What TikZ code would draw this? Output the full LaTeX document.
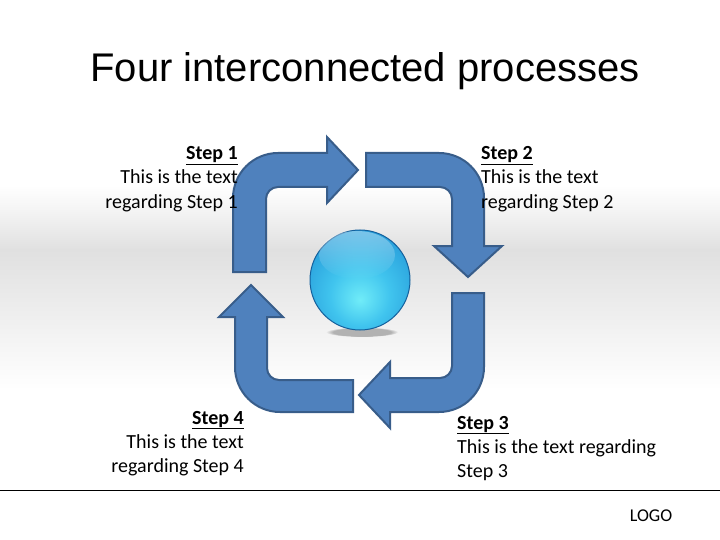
\documentclass[tikz,border=0pt]{standalone}
\usepackage{fontspec}
\setmainfont{Carlito}
\newfontfamily\titlefont{Liberation Sans}
\usetikzlibrary{fadings}
\definecolor{arrfill}{HTML}{4F81BD}
\definecolor{arrline}{HTML}{385D8A}
\definecolor{bgG}{HTML}{E0E0E0}
\definecolor{bgL}{HTML}{F2F2F2}
\definecolor{sphC}{HTML}{70ECF8}
\definecolor{sphM}{HTML}{40C4EE}
\definecolor{sphD}{HTML}{2294D6}
\definecolor{sphE}{HTML}{1A76BA}
\definecolor{sphB}{HTML}{14609C}
\pgfdeclareradialshading{sphshade}{\pgfpoint{0bp}{-10bp}}{color(0bp)=(sphC); color(15bp)=(sphM); color(36bp)=(sphD); color(50bp)=(sphE); color(70bp)=(sphE)}
\tikzfading[name=hlfade, top color=transparent!62, bottom color=transparent!100]
\tikzset{
  bigarrow/.style={fill=arrfill, draw=arrline, line width=2pt, line join=miter},
  steptitle/.style={font=\fontsize{20}{24}\selectfont\bfseries, inner sep=0pt},
  steptext/.style={font=\fontsize{20}{24}\selectfont, inner sep=0pt},
}
\begin{document}
\begin{tikzpicture}[x=1pt, y=-1pt]
\useasboundingbox (0,0) rectangle (720,540);
\fill[white] (0,0) rectangle (720,540);
% background band
\shade[top color=white, bottom color=bgL] (0,185) rectangle (720,215);
\shade[top color=bgL, bottom color=bgG] (0,214.5) rectangle (720,250);
\shade[top color=bgG, bottom color=white] (0,249.5) rectangle (720,390);

% title
\node[font=\titlefont\fontsize{40}{48}\selectfont, anchor=base, inner sep=0pt] (title) at (365,82) {Four interconnected processes};

% arrow 1 (top-left, pointing right)
\draw[bigarrow] (233,272) -- (233,198) arc[start angle=180, end angle=270, radius=45]
  -- (327,153) -- (327,137) -- (358,170) -- (327,203) -- (327,187) -- (278,187)
  arc[start angle=270, end angle=180, radius=12] -- (266,272) -- cycle;
% arrow 2 (top-right, pointing down)
\draw[bigarrow] (366,153) -- (439,153) arc[start angle=270, end angle=360, radius=45]
  -- (484,246) -- (502,246) -- (468,277) -- (434,246) -- (452,246) -- (452,199)
  arc[start angle=0, end angle=-90, radius=12] -- (366,187) -- cycle;
% arrow 3 (bottom-right, pointing left)
\draw[bigarrow] (452,293) -- (484,293) -- (484,367) arc[start angle=0, end angle=90, radius=45]
  -- (390,412) -- (390,428) -- (359,395) -- (390,362) -- (390,378) -- (440,378)
  arc[start angle=90, end angle=0, radius=12] -- cycle;
% arrow 4 (bottom-left, pointing up)
\draw[bigarrow] (353,412) -- (280,412) arc[start angle=90, end angle=180, radius=45]
  -- (235,317) -- (219,317) -- (251,285) -- (283,317) -- (267,317) -- (267,368)
  arc[start angle=180, end angle=90, radius=12] -- (353,380) -- cycle;

% sphere shadow
\fill[black!30, path fading=circle with fuzzy edge 20 percent] (362,332) ellipse [x radius=36, y radius=5];
% sphere
\shade[shading=sphshade] (360,280) circle [radius=50];
\draw[sphB, line width=1pt] (360,280) circle [radius=50];
\fill[white, path fading=hlfade] (357,255) ellipse [x radius=38, y radius=24];
\node[inner sep=0pt, minimum size=100pt, circle] (ball) at (360,280) {};

% step 1
\node[steptitle, anchor=base east] (s1a) at (238,160) {\underline{Step 1}};
\node[steptext, anchor=base east] (s1b) at (238,184) {This is the text};
\node[steptext, anchor=base east] (s1c) at (238,208) {regarding Step 1};
% step 2
\node[steptitle, anchor=base west] (s2a) at (481,160) {\underline{Step 2}};
\node[steptext, anchor=base west] (s2b) at (481,184) {This is the text};
\node[steptext, anchor=base west] (s2c) at (481,208) {regarding Step 2};
% step 4
\node[steptitle, anchor=base east] (s4a) at (244,424) {\underline{Step 4}};
\node[steptext, anchor=base east] (s4b) at (244,448) {This is the text};
\node[steptext, anchor=base east] (s4c) at (244,472) {regarding Step 4};
% step 3
\node[steptitle, anchor=base west] (s3a) at (457,429) {\underline{Step 3}};
\node[steptext, anchor=base west] (s3b) at (457,453) {This is the text regarding};
\node[steptext, anchor=base west] (s3c) at (457,477) {Step 3};

% footer
\coordinate (lineL) at (0,490);
\coordinate (lineR) at (720,490);
\draw[black, line width=1pt] (lineL) -- (lineR);
\node[font=\fontsize{18}{21}\selectfont, anchor=base, inner sep=0pt] (logo) at (651,521) {LOGO};
\end{tikzpicture}
\end{document}
